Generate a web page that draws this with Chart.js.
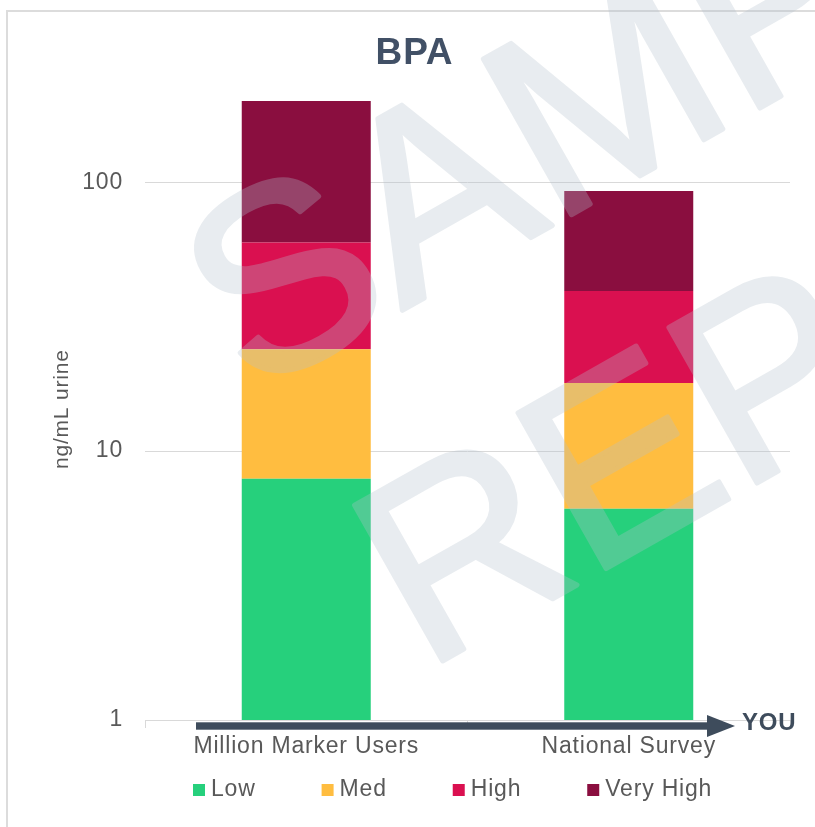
<!DOCTYPE html>
<html>
<head>
<meta charset="utf-8">
<title>BPA</title>
<script src="https://cdn.jsdelivr.net/npm/chart.js@4.4.1/dist/chart.umd.min.js"></script>
<style>
  html, body { margin: 0; padding: 0; background: #fff; overflow: hidden; }
  canvas { display: block; }
</style>
</head>
<body>
<canvas id="chartBPA" width="815" height="827"></canvas>
<script>
var categories = ['Million Marker Users', 'National Survey'];
var levels = ['Low', 'Med', 'High', 'Very High'];
var levelColors = ['#26d07c', '#ffbd40', '#da1050', '#8a0e3f'];
var lowValues = [7.9, 6.1];
var medValues = [16.0, 11.8];
var highValues = [35.8, 21.5];
var veryHighValues = [141, 53.4];
var yTicks = [1, 10, 100];

var FONT = '"Liberation Sans", Arial, sans-serif';
Chart.defaults.font.family = FONT;

// moldura cinza + espacamento de letras
var framePlugin = {
    id: 'frame',
    beforeUpdate: function(chart) {
        chart.ctx.letterSpacing = '0.8px';
    },
    beforeDraw: function(chart) {
        var ctx = chart.ctx;
        ctx.letterSpacing = '0.8px';
        ctx.save();
        ctx.strokeStyle = '#dcdcdc';
        ctx.lineWidth = 2;
        ctx.strokeRect(7, 11, chart.width, chart.height);
        ctx.restore();
    }
};

var arrowPlugin = {
    id: 'arrow',
    afterDraw: function(chart) {
        var a = chart.chartArea, ctx = chart.ctx;
        var y = a.bottom + 6;
        var x0 = a.left + 51, x1 = a.right - 55;
        ctx.save();
        ctx.fillStyle = '#3e4c5c';
        ctx.fillRect(x0, y - 3.7, x1 - 27 - x0, 7.4);
        ctx.beginPath();
        ctx.moveTo(x1 - 28, y - 11);
        ctx.lineTo(x1, y);
        ctx.lineTo(x1 - 28, y + 11);
        ctx.closePath();
        ctx.fill();
        ctx.font = 'bold 24px ' + FONT;
        ctx.textBaseline = 'alphabetic';
        ctx.textAlign = 'left';
        ctx.fillText('YOU', x1 + 7, a.bottom + 10);
        ctx.restore();
    }
};

var legendPlugin = {
    id: 'legendRow',
    afterDraw: function(chart) {
        var ctx = chart.ctx;
        var x = 193, y = chart.chartArea.bottom + 70;
        ctx.save();
        ctx.font = '23px ' + FONT;
        ctx.textBaseline = 'middle';
        ctx.textAlign = 'left';
        chart.data.datasets.forEach(function(ds) {
            ctx.fillStyle = ds.backgroundColor;
            ctx.fillRect(x, y - 6, 12, 12);
            ctx.fillStyle = '#595959';
            ctx.fillText(ds.label, x + 18, y);
            x += 18 + ctx.measureText(ds.label).width + 66;
        });
        ctx.restore();
    }
};

// marca d'agua: desenhada opaca num canvas a parte e colada com transparencia
var watermarkPlugin = {
    id: 'watermark',
    afterDraw: function(chart) {
        var off = document.createElement('canvas');
        off.width = chart.width;
        off.height = chart.height;
        var o = off.getContext('2d');
        o.fillStyle = 'rgb(180,193,205)';
        o.strokeStyle = 'rgb(180,193,205)';
        o.lineWidth = 5;
        o.lineJoin = 'round';
        o.font = '260px ' + FONT;
        o.textBaseline = 'alphabetic';
        o.translate(251, 396);
        o.rotate(-29.5 * Math.PI / 180);
        o.fillText('SAMPLE', 0, 0);
        o.strokeText('SAMPLE', 0, 0);
        o.fillText('REPORT', 15, 325);
        o.strokeText('REPORT', 15, 325);

        var ctx = chart.ctx;
        ctx.save();
        ctx.globalAlpha = 0.3;
        ctx.drawImage(off, 0, 0);
        ctx.restore();
    }
};

function makeDataset(label, values, color) {
    return {
        label: label,
        data: values,
        backgroundColor: color,
        borderWidth: 0,
        barPercentage: 0.4,
        categoryPercentage: 1.0
    };
}

var chartBPA = new Chart(document.getElementById('chartBPA'), {
    type: 'bar',
    data: {
        labels: categories,
        datasets: [
            makeDataset(levels[0], lowValues, levelColors[0]),
            makeDataset(levels[1], medValues, levelColors[1]),
            makeDataset(levels[2], highValues, levelColors[2]),
            makeDataset(levels[3], veryHighValues, levelColors[3])
        ]
    },
    options: {
        responsive: false,
        animation: false,
        layout: { padding: { left: 39, right: 25, top: 32, bottom: 0 } },
        plugins: {
            legend: { display: false },
            tooltip: { enabled: false },
            title: {
                display: true,
                text: 'BPA',
                color: '#415066',
                font: { size: 37, weight: 'bold' },
                padding: { top: 0, bottom: 22 }
            }
        },
        scales: {
            x: {
                stacked: true,
                grid: { drawOnChartArea: false, drawTicks: true, tickLength: 8, color: '#d9d9d9' },
                border: { color: '#d9d9d9' },
                ticks: { color: '#595959', font: { size: 23 }, padding: 5, maxRotation: 0, autoSkip: false },
                afterFit: function(scale) { scale.height = 107; }
            },
            y: {
                type: 'logarithmic',
                stacked: true,
                min: 1,
                max: 205,
                grid: { color: '#d9d9d9', drawTicks: false },
                border: { display: false },
                ticks: {
                    color: '#595959',
                    font: { size: 23 },
                    padding: 22,
                    callback: function(v) { return String(v); }
                },
                afterBuildTicks: function(scale) {
                    scale.ticks = yTicks.map(function(v) { return { value: v }; });
                },
                title: {
                    display: true,
                    text: 'ng/mL urine',
                    color: '#595959',
                    font: { size: 21 },
                    padding: { top: 11, bottom: 0 }
                },
                afterFit: function(scale) { scale.width = 106; }
            }
        }
    },
    plugins: [framePlugin, arrowPlugin, legendPlugin, watermarkPlugin]
});
</script>
</body>
</html>
